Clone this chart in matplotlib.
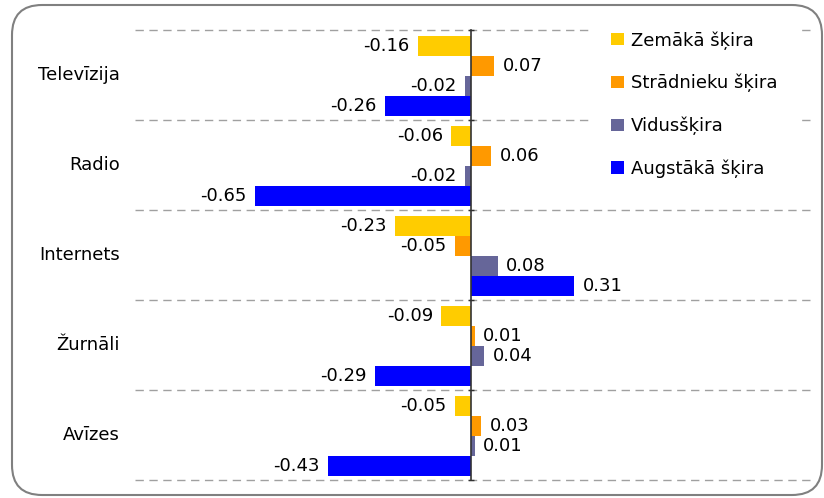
import matplotlib
matplotlib.use("Agg")
import matplotlib.pyplot as plt
import matplotlib.transforms as mtransforms
from matplotlib.patches import FancyBboxPatch, Rectangle
import numpy as np

plt.rcParams['font.family'] = ['DejaVu Sans']

categories = ['Televīzija', 'Radio', 'Internets', 'Žurnāli', 'Avīzes']
series_names = ['Zemākā šķira', 'Strādnieku šķira', 'Vidusšķira', 'Augstākā šķira']
zemaka = [-0.16, -0.06, -0.23, -0.09, -0.05]
stradnieku = [0.07, 0.06, -0.05, 0.01, 0.03]
vidus = [-0.02, -0.02, 0.08, 0.04, 0.01]
augstaka = [-0.26, -0.65, 0.31, -0.29, -0.43]
colors = ['#FFCC00', '#FF9900', '#666699', '#0000FF']

W, H = 824, 498
fig = plt.figure(figsize=(W / 100, H / 100), dpi=100)
ax = fig.add_axes([135 / W, 1 - 480 / H, (815 - 135) / W, (480 - 30) / H])

series = [zemaka, stradnieku, vidus, augstaka]
bar_h = 0.222
offsets = [-0.318, -0.096, 0.126, 0.348]
y = np.arange(len(categories))
handles = []
for vals, col, off, name in zip(series, colors, offsets, series_names):
    bars = ax.barh(y + off, vals, height=bar_h, color=col, label=name, zorder=3)
    ax.bar_label(bars, fmt='%.2f', padding=6, fontsize=13, color='#000000')
    handles.append(bars)

ax.set_xlim(-1.01, 1.033)
ax.set_ylim(len(categories) - 0.5, -0.5)

# dashed separators
for b in np.arange(-0.5, len(categories), 1.0):
    ax.axhline(b, color='#A0A0A0', lw=1.0, ls=(0, (6, 4)), zorder=1, clip_on=False)

# white legend background hiding the separators behind it
ax.add_patch(Rectangle((590 / W, 1 - 190 / H), 210 / W, 165 / H,
                       transform=fig.transFigure, facecolor='white',
                       edgecolor='none', zorder=2, clip_on=False))

for s in ['top', 'right', 'bottom']:
    ax.spines[s].set_visible(False)
ax.spines['left'].set_position(('data', 0))
ax.spines['left'].set_color('#333333')
ax.spines['left'].set_linewidth(1.2)
ax.spines['left'].set_zorder(4)
ax.set_xticks([])
ax.set_yticks(np.arange(-0.5, len(categories), 1.0))
ax.set_yticklabels([])
ax.tick_params(axis='y', direction='inout', length=5, width=1, color='#333333')

trans = mtransforms.blended_transform_factory(fig.transFigure, ax.transData)
for i, c in enumerate(categories):
    ax.text(120 / W, i, c, transform=trans, ha='right', va='center', fontsize=13)

leg = fig.legend(handles=handles, labels=series_names, loc='upper left',
                 bbox_to_anchor=(611 / W, 1 - 31 / H), frameon=False,
                 fontsize=13, handlelength=0.7, handleheight=0.7,
                 handletextpad=0.4, labelspacing=1.35, borderpad=0,
                 borderaxespad=0)

box = FancyBboxPatch((0.12, 0.03), 8.10, 4.90,
                     boxstyle='round,pad=0,rounding_size=0.3',
                     transform=fig.dpi_scale_trans, fill=False,
                     edgecolor='#808080', lw=1.5)
fig.patches.append(box)

fig.savefig('out.png', dpi=100)
